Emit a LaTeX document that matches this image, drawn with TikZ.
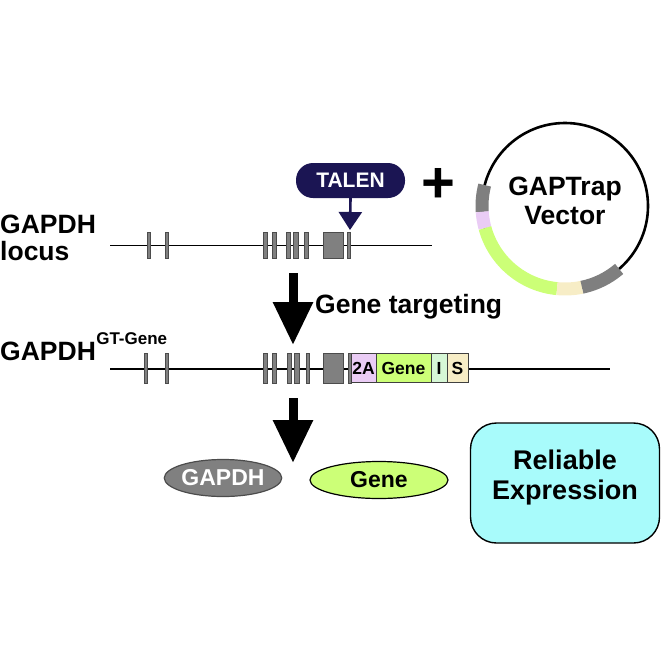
\documentclass[tikz,border=0pt]{standalone}
\usepackage{fontspec}
\setmainfont{Liberation Sans}
\usetikzlibrary{arrows.meta,shapes.geometric}
\definecolor{navy}{HTML}{1B1553}
\definecolor{exgray}{HTML}{808080}
\definecolor{lav}{HTML}{EACCF5}
\definecolor{limeg}{HTML}{CCFF77}
\definecolor{mint}{HTML}{D6F7D6}
\definecolor{beige}{HTML}{F7EDC6}
\definecolor{cyanbox}{HTML}{A8FBFB}
\definecolor{ringgray}{HTML}{7F7F7F}
\begin{document}
\begin{tikzpicture}[x=1pt,y=-1pt,
  exon/.style={draw=black!70, fill=exgray, line width=0.8pt},
  dna/.style={line width=1.8pt},
  bigarrow/.style={line width=9pt, -{Triangle[length=43pt,width=38pt]}},
  bigtext/.style={font=\fontsize{26.5}{29}\selectfont\bfseries, inner sep=0pt},
  cas/.style={draw=black!75, line width=0.8pt, minimum height=29pt, inner sep=0pt,
     font=\fontsize{17.5}{17.5}\selectfont\bfseries},
  ring/.style={line width=13pt, line cap=butt},
  oval/.style={ellipse, minimum height=37pt, inner sep=0pt, line width=1.2pt,
     font=\fontsize{23}{23}\selectfont\bfseries}]
\useasboundingbox (0,0) rectangle (664,664);

% ---- labels left
\node[bigtext, anchor=base west] (lab1) at (0,233) {GAPDH};
\node[bigtext, anchor=base west] (lab2) at (0,260) {locus};
\node[bigtext, anchor=base west] (lab3) at (0,360) {GAPDH};
\node[anchor=base west, inner sep=0pt, font=\fontsize{17}{17}\selectfont\bfseries] (sup) at (lab3.base east) [yshift=16pt] {GT-Gene};

% ---- top locus
\coordinate (l1a) at (110,245.5);
\coordinate (l1b) at (432,245.5);
\draw[dna] (l1a) -- (l1b);
\foreach \a/\b in {147/150,165/168,263/267,272/276,286/290,293/298,304/308,347/350}
  \draw[exon] (\a,232) rectangle (\b,258);
\draw[exon] (323,232) rectangle (343,258);

% ---- TALEN
\node[fill=navy, text=white, rounded corners=17pt, minimum width=109pt, minimum height=35pt,
  inner sep=0pt, font=\fontsize{21}{21}\selectfont\bfseries] (talen) at (350.5,180.5) {TALEN};
\coordinate (cut) at (350,230);
\draw[navy, line width=2.6pt, -{Triangle[length=18pt,width=23pt]}] (talen.south) -- (cut);

% ---- plus
\node[inner sep=0pt, anchor=base, font=\fontsize{58}{58}\selectfont\bfseries] (plus) at (438,202) {+};

% ---- vector
\coordinate (vc) at (565,206);
\draw[line width=2.6pt] (vc) circle[radius=83];
\draw[ring, ringgray] (vc) ++(-165.4:83) arc[start angle=-165.4, end angle=-184, radius=83];
\draw[ring, lav] (vc) ++(-184:83) arc[start angle=-184, end angle=-195.4, radius=83];
\draw[ring, limeg] (vc) ++(-195.4:83) arc[start angle=-195.4, end angle=-264.5, radius=83];
\draw[ring, beige] (vc) ++(-264.5:83) arc[start angle=-264.5, end angle=-281.8, radius=83];
\draw[ring, ringgray] (vc) ++(-281.8:83) arc[start angle=-281.8, end angle=-310.7, radius=83];
\node[bigtext, align=center] (vtext) at (565,201) {GAPTrap\\Vector};

% ---- gene targeting arrow
\coordinate (ga1) at (293,273);
\coordinate (ga2) at (293,345);
\draw[bigarrow] (ga1) -- (ga2);
\node[bigtext, anchor=base west] (gt) at (315,313) {Gene targeting};

% ---- targeted locus
\coordinate (l2a) at (110,369);
\coordinate (l2b) at (610,369);
\draw[dna] (l2a) -- (l2b);
\foreach \a/\b in {144/147,165/168,263/267,272/276,287/291,294/299,306/309,348/351}
  \draw[exon] (\a,353) rectangle (\b,383);
\draw[exon] (323,353) rectangle (343,383);
\node[cas, fill=lav, minimum width=25pt] (c2a) at (363.5,368) {2A};
\node[cas, fill=limeg, minimum width=55pt] (cgene) at (403.5,368) {Gene};
\node[cas, fill=mint, minimum width=16pt] (ci) at (439,368) {I};
\node[cas, fill=beige, minimum width=21pt] (cs) at (457.5,368) {S};

% ---- expression arrow
\coordinate (ea1) at (293,398);
\coordinate (ea2) at (293,463);
\draw[bigarrow] (ea1) -- (ea2);

% ---- products
\node[oval, fill=exgray, draw=black!70, text=white, minimum width=117pt] (pg) at (223,478) {GAPDH};
\node[oval, fill=limeg, draw=black, minimum width=138pt] (pgene) at (379,480) {Gene};
\node[draw=black, fill=cyanbox, line width=1.4pt, rounded corners=26pt,
  minimum width=189pt, minimum height=120pt] (rel) at (565,483) {};
\node[bigtext, align=center, font=\fontsize{27}{30}\selectfont\bfseries] (reltext) at (565,478) {Reliable\\Expression};
\end{tikzpicture}
\end{document}
